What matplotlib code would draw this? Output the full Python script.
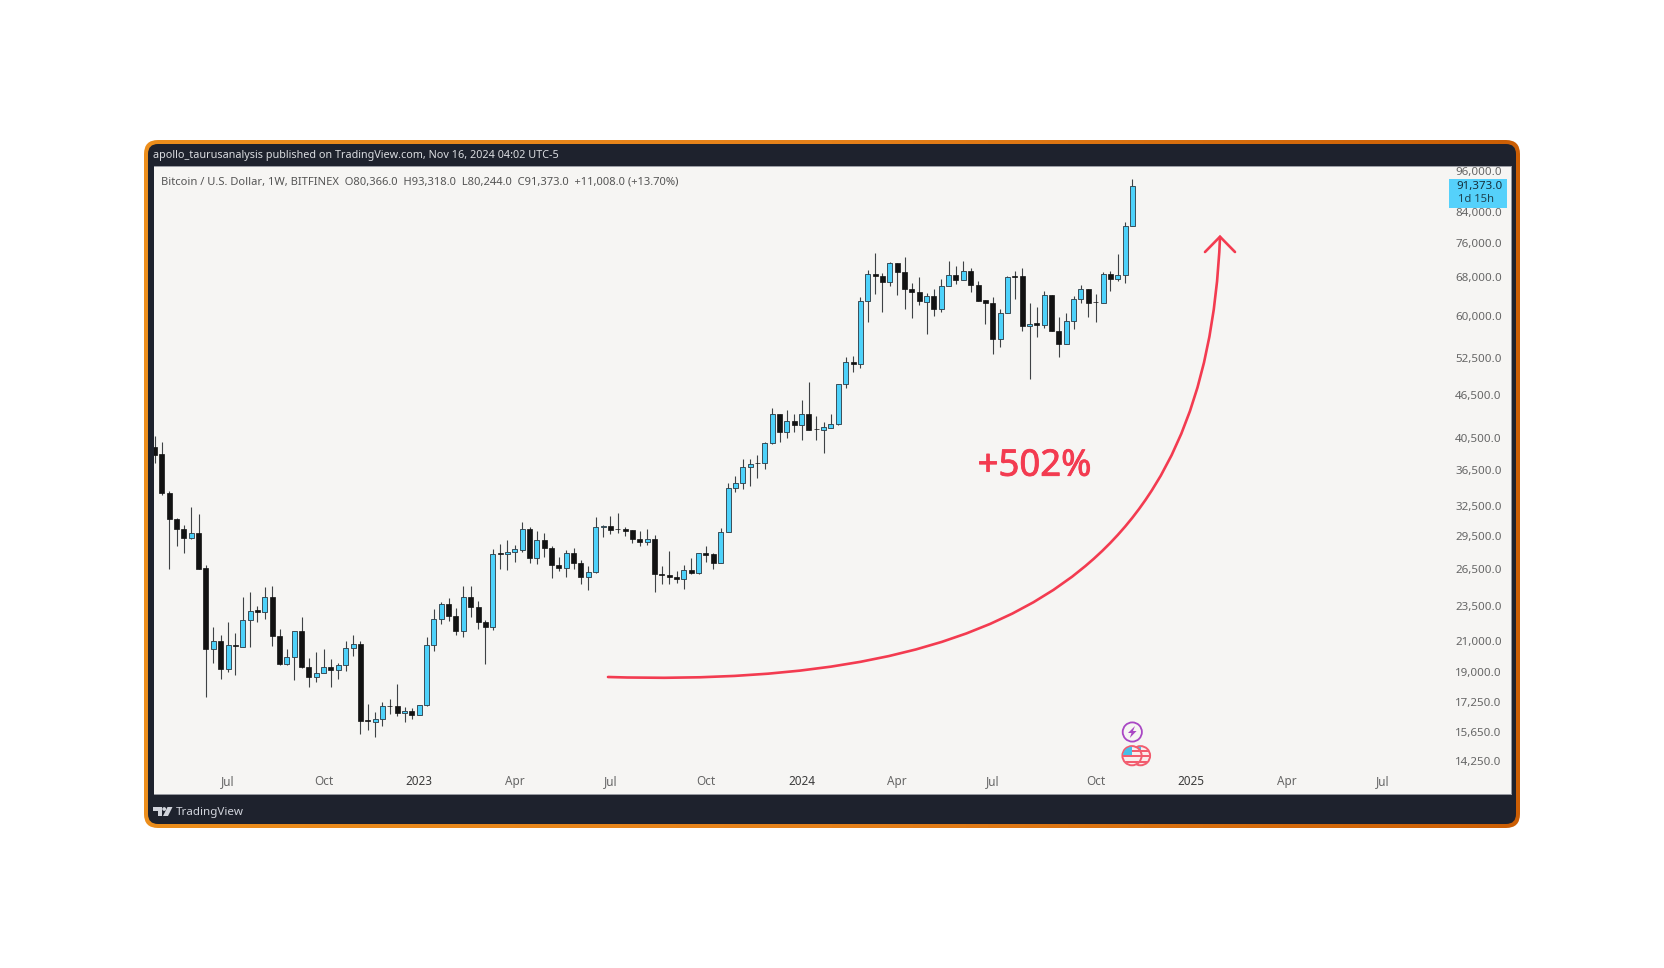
import matplotlib
matplotlib.use('Agg')
import matplotlib.pyplot as plt
import matplotlib.patheffects as pe
from matplotlib.patches import FancyBboxPatch, PathPatch, Circle, Rectangle, Polygon
from matplotlib.path import Path
from matplotlib.colors import LinearSegmentedColormap
import numpy as np

W, H = 1664, 968

# weekly candles, Bitfinex BTCUSD
opens = [39360, 38410, 33930, 31200, 30170, 29350, 29790, 26580, 20460, 21000,
         19200, 20770, 20650, 22470, 23200, 23080, 24200, 21390, 19490, 19940,
         21730, 19350, 18730, 18980, 19350, 19160, 19470, 20570, 20840, 16270,
         16200, 16340, 17040, 17040, 16650, 16780, 16560, 17080, 20770, 22590,
         23660, 22810, 21710, 24200, 23430, 22330, 21960, 27900, 27870, 28020,
         28230, 30170, 27510, 29160, 28380, 26840, 26640, 27960, 27010, 25870,
         26240, 30370, 30500, 30170, 30170, 30040, 29250, 28970, 29250, 26100,
         26040, 25870, 25700, 26410, 26150, 27900, 27840, 27060, 29850, 34420,
         34970, 36910, 37340, 37300, 39790, 43700, 41280, 42820, 42230, 43790,
         41670, 41540, 41860, 42430, 48160, 51790, 51480, 62960, 68770, 68250,
         67080, 71170, 69150, 65590, 64810, 62900, 63970, 61420, 66160, 68470,
         67510, 69450, 66440, 63160, 62620, 55810, 60680, 68320, 68250, 58070,
         58640, 58380, 64250, 57200, 54840, 59090, 63400, 65450, 62830, 62700,
         68770, 67720, 68620, 80366]
highs = [40760, 39930, 34120, 31240, 30540, 32400, 31700, 26840, 21960, 21450,
         22350, 21550, 24200, 24600, 23560, 25000, 25130, 21820, 20480, 21730,
         22710, 19900, 20290, 20460, 19850, 19610, 21000, 21430, 21000, 17130,
         16710, 17240, 17410, 18310, 17000, 16910, 17100, 21320, 23280, 23840,
         24150, 23360, 25110, 25130, 23890, 22490, 28260, 28740, 29090, 28680,
         30840, 30400, 29950, 29760, 28590, 27570, 28170, 28380, 27300, 26780,
         31340, 30570, 31470, 31740, 30340, 30070, 29950, 30170, 29600, 26780,
         28140, 26380, 26840, 27450, 27960, 28530, 27900, 30240, 35050, 35850,
         37790, 37830, 38330, 40010, 44600, 43700, 44260, 43740, 45820, 48570,
         43510, 42690, 43700, 48260, 52600, 52770, 63770, 69590, 73520, 68920,
         71390, 71240, 72570, 66730, 68020, 64600, 65450, 67570, 71690, 70570,
         71770, 70040, 67220, 63300, 63870, 61420, 68250, 69450, 70040, 62560,
         61820, 65020, 64320, 59850, 60550, 64110, 66300, 65520, 64390, 69150,
         69370, 73370, 81260, 93318]
lows = [37300, 33670, 26550, 28560, 27960, 29190, 26500, 17560, 19570, 18600,
        19020, 18850, 20630, 20630, 22350, 22570, 20700, 19470, 19470, 18530,
        19280, 18140, 18430, 18930, 18100, 18620, 19100, 20030, 15550, 15780,
        15430, 15970, 16630, 16490, 16200, 16340, 16540, 17060, 20370, 22230,
        22450, 21430, 21290, 22740, 21870, 19530, 21800, 26550, 26470, 27090,
        28050, 27030, 26920, 27600, 25780, 26320, 25840, 26490, 25270, 24780,
        26210, 29410, 29700, 29820, 29500, 28840, 28560, 28620, 24650, 25290,
        25270, 25370, 24840, 26120, 26100, 27120, 26520, 27060, 29850, 33970,
        34380, 34680, 35610, 36670, 39750, 40010, 40450, 41240, 40230, 41500,
        40230, 38535, 41810, 42180, 47540, 50060, 50820, 58900, 64460, 60750,
        66230, 64170, 61480, 59600, 62290, 56600, 60050, 60810, 66090, 66590,
        67440, 64880, 63030, 58470, 53170, 54370, 60680, 63370, 57140, 48980,
        56050, 57840, 57140, 52640, 54780, 57620, 62620, 59920, 58900, 62560,
        65110, 67300, 66730, 80244]
closes = [38330, 33930, 31200, 30140, 29350, 29820, 26550, 20460, 21000, 19200,
          20770, 20680, 22470, 23180, 23080, 24200, 21390, 19490, 19940, 21730,
          19350, 18730, 18980, 19350, 19160, 19470, 20570, 20840, 16250, 16220,
          16340, 17040, 17020, 16650, 16780, 16560, 17080, 20770, 22590, 23660,
          22810, 21710, 24200, 23430, 22330, 21960, 27810, 27870, 28050, 28260,
          30170, 27510, 29160, 28380, 26840, 26640, 27960, 27010, 25870, 26240,
          30400, 30500, 30070, 30140, 29980, 29220, 28970, 29250, 26100, 26040,
          25840, 25700, 26410, 26150, 27900, 27780, 27060, 29850, 34450, 34970,
          36910, 37260, 37300, 39790, 43700, 41280, 42820, 42230, 43790, 41540,
          41630, 41900, 42410, 48210, 51790, 51480, 62960, 68770, 68250, 67080,
          71170, 69150, 65590, 64810, 62960, 63970, 61420, 66160, 68470, 67510,
          69450, 66440, 63100, 62620, 55810, 60680, 68100, 68170, 58070, 58580,
          58380, 64180, 57200, 54840, 59090, 63360, 65450, 62620, 62760, 68770,
          67720, 68620, 80366, 91373]
price_ticks = [96000, 84000, 76000, 68000, 60000, 52500, 46500, 40500, 36500, 32500,
               29500, 26500, 23500, 21000, 19000, 17250, 15650, 14250]
time_ticks = [10, 23, 36, 49, 62, 75, 88, 101, 114, 128, 141, 154, 167]
time_labels = ['Jul', 'Oct', '2023', 'Apr', 'Jul', 'Oct', '2024', 'Apr', 'Jul', 'Oct', '2025', 'Apr', 'Jul']

UI = 'Noto Sans'
px = 72 / 100  # font px to points at dpi 100
opens, highs, lows, closes = map(np.array, (opens, highs, lows, closes))
weeks = np.arange(len(closes))
up = closes >= opens

fig = plt.figure(figsize=(W / 100, H / 100), dpi=100, facecolor='white')

# frame behind the chart
back = fig.add_axes([0, 0, 1, 1])
grad = LinearSegmentedColormap.from_list('frame', ['#EC8E1C', '#E5811A', '#CB5E04'])
im = back.imshow(np.linspace(0, 1, 256)[None, :], cmap=grad, extent=(144, 1520, 828, 140), aspect='auto')
outer = FancyBboxPatch((144, 140), 1376, 688, boxstyle='round,pad=0,rounding_size=14', fc='none', ec='none',
                       transform=back.transData)
back.add_patch(outer)
im.set_clip_path(outer)
back.add_patch(FancyBboxPatch((148, 144), 1368, 680, boxstyle='round,pad=0,rounding_size=10', fc='#1E222D', ec='none'))
back.set_xlim(0, W)
back.set_ylim(H, 0)
back.axis('off')
back.text(153, 155.5, 'apollo_taurusanalysis published on TradingView.com, Nov 16, 2024 04:02 UTC-5',
          color='#DADCE0', fontsize=10.85 * px, family=UI, va='center')
back.text(175.5, 812, 'TradingView', color='#D1D4DC', fontsize=11.6 * px, family=UI, va='center')
# TradingView logo
back.add_patch(Polygon([(153, 807), (161.5, 807), (161.5, 816), (157.5, 816), (157.5, 811), (153, 811)], fc='#D1D4DC', ec='none'))
back.add_patch(Circle((164.2, 809), 1.9, fc='#D1D4DC', ec='none'))
back.add_patch(Polygon([(167.5, 807), (172.5, 807), (168, 816), (163, 816)], fc='#D1D4DC', ec='none'))

# main chart
ax = fig.add_axes([153.5 / W, (H - 794) / H, (1510.7 - 153.5) / W, (794 - 166) / H])
ax.set_facecolor('#F6F5F3')
ax.set_yscale('log')
ax.vlines(weeks, lows, highs, color='#3F4245', lw=0.8, zorder=2)
ax.bar(weeks[~up], (closes - opens)[~up], bottom=opens[~up], width=0.68, color='#121212',
       edgecolor='#121212', lw=0.5, zorder=3)
ax.bar(weeks[up], (closes - opens)[up], bottom=opens[up], width=0.68, color='#4DD2FB',
       edgecolor='#33444E', lw=0.65, zorder=3)
ax.set_xlim(-0.14, 184.44)
ax.set_ylim(12826, 97465)
ax.yaxis.tick_right()
ax.minorticks_off()
ax.set_yticks(price_ticks)
ax.set_yticklabels([f'{p:,.1f}' for p in price_ticks], fontsize=11.6 * px, family=UI, color='#666666', ha='right')
ax.tick_params(axis='y', length=0, pad=-6.5)
ax.set_xticks(time_ticks)
ax.set_xticklabels(time_labels, fontsize=11.8 * px, family=UI, color='#666666')
ax.tick_params(axis='x', length=0, pad=-13.4, direction='in')
for lab in ax.get_xticklabels():
    if lab.get_text().isdigit():
        lab.set_fontweight('bold')
        lab.set_color('#3c3c3c')
for s in ax.spines.values():
    s.set_color('#9A9CA3')
    s.set_linewidth(0.7)
ax.spines['left'].set_visible(False)

# overlay in figure pixels: legend, drawing, price label, event markers
top = fig.add_axes([0, 0, 1, 1], facecolor='none')
top.set_xlim(0, W)
top.set_ylim(H, 0)
top.axis('off')
top.text(161, 181.5, 'Bitcoin / U.S. Dollar, 1W, BITFINEX  O80,366.0  H93,318.0  L80,244.0  C91,373.0  +11,008.0 (+13.70%)',
         color='#555555', fontsize=11.2 * px, family=UI, va='center')

# +502% curve
red = '#F33B50'
top.add_patch(PathPatch(Path([(608, 677), (1018, 689), (1207, 562), (1220, 237)],
                             [Path.MOVETO, Path.CURVE4, Path.CURVE4, Path.CURVE4]),
                        fc='none', ec=red, lw=1.9, capstyle='round'))
top.plot([1205, 1220, 1235], [252, 236.7, 252], color=red, lw=1.9, solid_capstyle='round', solid_joinstyle='miter')
top.text(1034.5, 475.7, '+502%', color=red, fontsize=36.5 * px, family=UI, ha='center', va='baseline',
         path_effects=[pe.withStroke(linewidth=0.6, foreground=red)])

# last price label
top.add_patch(Rectangle((1449, 178.7), 57.7, 29.6, fc='#55D1FB', ec='none'))
top.text(1503, 187, '91,373.0', color='#16303C', fontsize=11.6 * px, family=UI, ha='right', va='center')
top.text(1458, 200, '1d 15h', color='#1F4452', fontsize=11.2 * px, family=UI, ha='left', va='center')

# event markers
top.add_patch(Circle((1132.3, 732), 9.6, fc='#F6F5F3', ec='#A947C4', lw=1.3))
top.add_patch(Polygon([(1135, 726), (1128, 733), (1131.5, 733), (1129.8, 738), (1136.6, 731), (1133, 731)],
                      fc='#A947C4', ec='none'))
for cx in (1140.5, 1132):
    top.add_patch(Circle((cx, 755.7), 9.6, fc='#FBECEC', ec='#F25C6E', lw=1.4))
    clip = Circle((cx, 755.7), 9, transform=top.transData)
    for sy in (749.5, 755, 760.5):
        r = Rectangle((cx - 10, sy), 20, 2.4, fc='#F25C6E', ec='none')
        top.add_patch(r)
        r.set_clip_path(clip)
    c = Rectangle((cx - 10, 746), 10, 9, fc='#45BFE8', ec='none')
    top.add_patch(c)
    c.set_clip_path(clip)

fig.savefig('out.png', dpi=100, facecolor='white')
